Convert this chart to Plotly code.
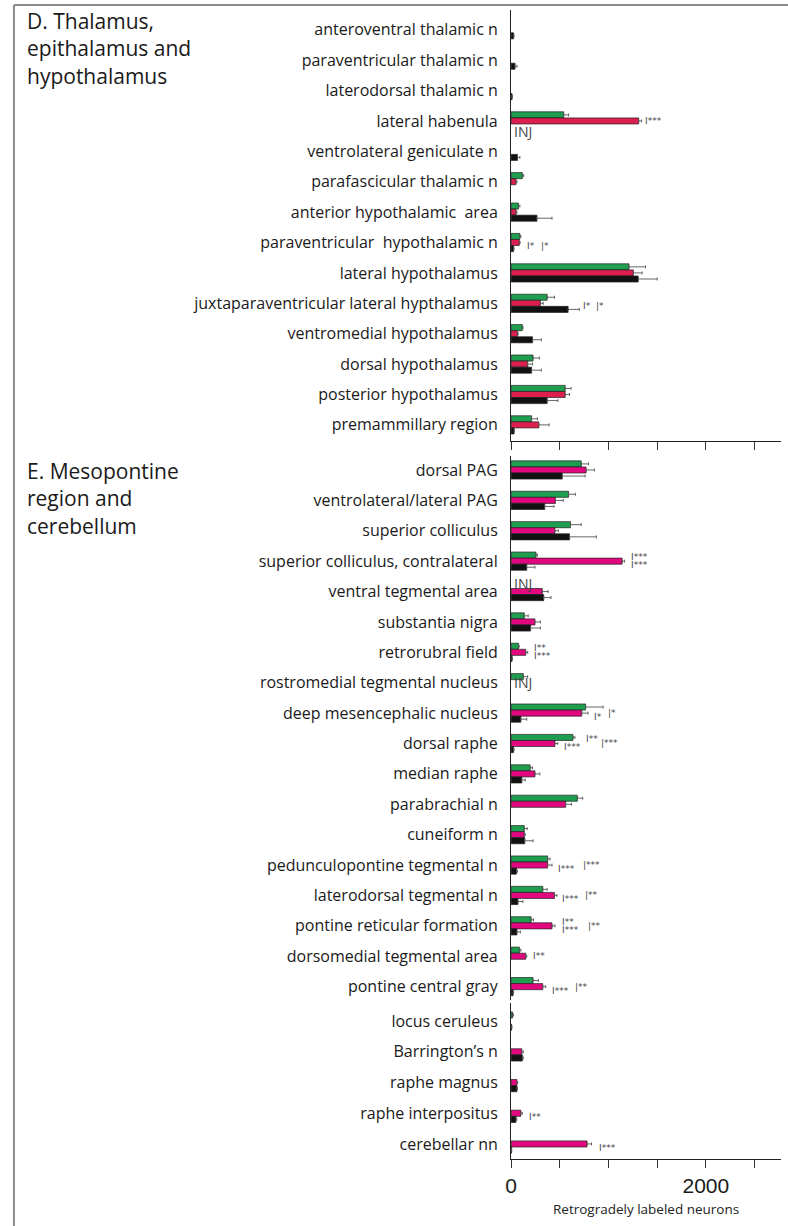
import plotly.graph_objects as go

# ---------------- data ----------------
# D. Thalamus, epithalamus and hypothalamus
d_regions = [
    "anteroventral thalamic n", "paraventricular thalamic n", "laterodorsal thalamic n",
    "lateral habenula", "ventrolateral geniculate n", "parafascicular thalamic n",
    "anterior hypothalamic  area", "paraventricular  hypothalamic n", "lateral hypothalamus",
    "juxtaparaventricular lateral hypthalamus", "ventromedial hypothalamus",
    "dorsal hypothalamus", "posterior hypothalamus", "premammillary region",
]
d_green = [None, None, None, 540, None, 115, 75, 90, 1210, 370, 115, 225, 555, 210]
d_green_err = [None, None, None, 50, None, 15, 15, 10, 170, 75, 7, 65, 60, 60]
d_red = [None, None, None, 1310, None, 50, 50, 84, 1255, 300, 65, 170, 555, 285]
d_red_err = [None, None, None, 30, None, 10, 10, 8, 90, 30, 8, 50, 45, 105]
d_black = [25, 40, 10, None, 65, None, 265, 25, 1305, 585, 220, 210, 370, 30]
d_black_err = [5, 20, 2, None, 25, None, 155, 5, 195, 115, 90, 100, 110, 5]

# E. Mesopontine region and cerebellum (midbrain / pons block)
e1_regions = [
    "dorsal PAG", "ventrolateral/lateral PAG", "superior colliculus",
    "superior colliculus, contralateral", "ventral tegmental area", "substantia nigra",
    "retrorubral field", "rostromedial tegmental nucleus", "deep mesencephalic nucleus",
    "dorsal raphe", "median raphe", "parabrachial n", "cuneiform n",
    "pedunculopontine tegmental n", "laterodorsal tegmental n",
    "pontine reticular formation", "dorsomedial tegmental area", "pontine central gray",
]
e1_green = [720, 590, 610, 255, None, 135, 75, 125, 765, 635, 195, 680, 135, 375, 325, 205, 85, 225]
e1_green_err = [75, 70, 110, 15, None, 40, 8, 45, 180, 20, 25, 55, 30, 25, 45, 25, 15, 55]
e1_red = [770, 455, 450, 1140, 320, 245, 150, None, 725, 450, 245, 560, 135, 375, 445, 420, 150, 325]
e1_red_err = [85, 80, 35, 25, 60, 55, 20, None, 65, 30, 50, 60, 10, 45, 25, 30, 10, 30]
e1_black = [525, 345, 600, 160, 335, 200, 10, None, 100, 25, 110, None, 140, 55, 70, 60, None, 20]
e1_black_err = [235, 95, 275, 85, 75, 100, 3, None, 60, 5, 35, None, 85, 10, 50, 35, None, 5]

# E. Mesopontine region and cerebellum (hindbrain / cerebellum block)
e2_regions = ["locus ceruleus", "Barrington\u2019s n", "raphe magnus", "raphe interpositus", "cerebellar nn"]
e2_green = [15, None, None, None, None]
e2_green_err = [10, None, None, None, None]
e2_red = [None, 110, 60, 100, 780]
e2_red_err = [None, 15, 8, 15, 45]
e2_black = [5, 115, 60, 50, 5]
e2_black_err = [3, 10, 5, 8, None]

# significance marks: (region, x position in neurons, mark, row)
d_sig = [
    ("lateral habenula", 1352, "I***", "mid"),
    ("paraventricular  hypothalamic n", 143, "I*", "low"),
    ("paraventricular  hypothalamic n", 285, "|*", "low"),
    ("juxtaparaventricular lateral hypthalamus", 714, "I*", "low"),
    ("juxtaparaventricular lateral hypthalamus", 846, "|*", "low"),
]
e1_sig = [
    ("superior colliculus, contralateral", 1213, "I***", "up"),
    ("superior colliculus, contralateral", 1213, "I***", "down"),
    ("retrorubral field", 214, "I**", "up"),
    ("retrorubral field", 214, "I***", "down"),
    ("deep mesencephalic nucleus", 826, "I*", "down"),
    ("deep mesencephalic nucleus", 979, "|*", "mid"),
    ("dorsal raphe", 520, "I***", "down"),
    ("dorsal raphe", 744, "I**", "up"),
    ("dorsal raphe", 907, "|***", "mid"),
    ("pedunculopontine tegmental n", 459, "I***", "down"),
    ("pedunculopontine tegmental n", 714, "|***", "mid"),
    ("laterodorsal tegmental n", 499, "I***", "down"),
    ("laterodorsal tegmental n", 734, "|**", "mid"),
    ("pontine reticular formation", 499, "I**", "up"),
    ("pontine reticular formation", 499, "I***", "down"),
    ("pontine reticular formation", 765, "|**", "mid"),
    ("dorsomedial tegmental area", 204, "I**", "mid"),
    ("pontine central gray", 398, "I***", "down"),
    ("pontine central gray", 632, "|**", "mid"),
]
e2_sig = [
    ("raphe interpositus", 163, "I**", "down"),
    ("cerebellar nn", 877, "I***", "down"),
]
# injection-site markers: (region, slot of the missing bar)
d_inj = [("lateral habenula", "black")]
e1_inj = [("ventral tegmental area", "green"), ("rostromedial tegmental nucleus", "red")]

x_ticks = [0, 500, 1000, 1500, 2000, 2500]
x_ticktext = ["0", "", "", "", "2000", ""]
x_title = "Retrogradely labeled neurons"
d_title = "D. Thalamus,<br>epithalamus and<br>hypothalamus"
e_title = "E. Mesopontine<br>region and<br>cerebellum"

# ---------------- styling ----------------
W, H = 788, 1226
GREEN = "#1f9e4f"
RED_D = "#dc1f4e"
MAGENTA = "#e2077e"
BLACK = "#111111"
LABEL_FONT = dict(family="Open Sans", size=16, color="#1a1a1a")
X_MAX = 2772


def py(px):
    """pixel row -> paper y"""
    return 1 - px / H


def px_x(px):
    return px / W


fig = go.Figure()

panels = [
    # axis suffix, regions, series, red colour, y pixel extent, category range
    ("", d_regions, (d_green, d_green_err, d_red, d_red_err, d_black, d_black_err), RED_D,
     (10, 441), (13.53, -0.65)),
    ("2", e1_regions, (e1_green, e1_green_err, e1_red, e1_red_err, e1_black, e1_black_err), MAGENTA,
     (456, 1000), (17.44, -0.46)),
    ("3", e2_regions, (e2_green, e2_green_err, e2_red, e2_red_err, e2_black, e2_black_err), MAGENTA,
     (1003, 1159), (4.49, -0.59)),
]

for suffix, regions, series, red_col, (top, bot), yr in panels:
    g, ge, r, re_, b, be = series
    for vals, errs, col, nm in ((g, ge, GREEN, "green"), (r, re_, red_col, "red"), (b, be, BLACK, "black")):
        fig.add_trace(go.Bar(
            y=regions, x=vals, orientation="h", name=nm, showlegend=False,
            marker=dict(color=col, line=dict(color="#222222", width=0.7)),
            error_x=dict(type="data", symmetric=False, array=errs,
                         arrayminus=[0] * len(errs), color="#555555", thickness=0.9, width=1.5),
            xaxis="x" + suffix, yaxis="y" + suffix,
        ))
    dom_y = [py(bot), py(top)]
    fig.layout["yaxis" + suffix] = dict(
        domain=dom_y, anchor="x" + suffix, type="category", categoryorder="array",
        categoryarray=regions, range=list(yr), showline=True, linecolor="#222222",
        linewidth=1.3, ticks="", ticklabelstandoff=9, tickfont=LABEL_FONT,
        showgrid=False, zeroline=False,
    )
    xa = dict(domain=[px_x(509), px_x(781)], anchor="y" + suffix, range=[0, X_MAX],
              showgrid=False, zeroline=False, tickvals=x_ticks, ticktext=x_ticktext)
    if suffix == "2":
        xa.update(showline=False, ticks="", showticklabels=False)
    else:
        xa.update(showline=True, linecolor="#222222", linewidth=1.3, ticks="outside",
                  ticklen=8, tickcolor="#333333", tickwidth=1)
        if suffix == "":
            xa.update(showticklabels=False)
        else:
            xa.update(tickfont=dict(family="Liberation Sans", size=21, color="#1a1a1a"),
                      title=dict(text=x_title, font=dict(family="Open Sans", size=13.5, color="#222222"),
                                 standoff=8))
    fig.layout["xaxis" + suffix] = xa

fig.update_layout(barmode="group", bargap=0.4, bargroupgap=0.0)

# significance marks
row_shift = {"up": 4, "mid": 0, "low": -3, "down": -4}
for suffix, sigs in (("", d_sig), ("2", e1_sig), ("3", e2_sig)):
    for reg, xv, txt, row in sigs:
        fig.add_annotation(x=xv, y=reg, xref="x" + suffix, yref="y" + suffix, text=txt,
                           showarrow=False, xanchor="left", yshift=row_shift[row],
                           font=dict(family="DejaVu Sans", size=9, color="#444444"))

slot_shift = {"green": 8, "red": 0, "black": -11}
for suffix, injs in (("", d_inj), ("2", e1_inj)):
    for reg, slot in injs:
        fig.add_annotation(x=8, y=reg, xref="x" + suffix, yref="y" + suffix, text="INJ",
                           showarrow=False, xanchor="left", yshift=slot_shift[slot],
                           font=dict(family="Open Sans", size=14, color="#444444"))

# panel titles
for txt, top_px in ((d_title, 5), (e_title, 455)):
    fig.add_annotation(x=px_x(19), y=py(top_px), xref="paper", yref="paper", text=txt,
                       showarrow=False, xanchor="left", yanchor="top", align="left",
                       font=dict(family="Open Sans", size=21, color="#1a1a1a"))

# frame lines along the top and left edge
fig.add_shape(type="line", xref="paper", yref="paper", x0=px_x(8), x1=1, y0=py(5), y1=py(5),
              line=dict(color="#8a8a8a", width=2))
fig.add_shape(type="line", xref="paper", yref="paper", x0=px_x(8), x1=px_x(8), y0=py(5), y1=0,
              line=dict(color="#8a8a8a", width=2))

fig.update_layout(width=W, height=H, margin=dict(l=0, r=0, t=0, b=0),
                  plot_bgcolor="white", paper_bgcolor="white")

fig.write_html("out.html")
